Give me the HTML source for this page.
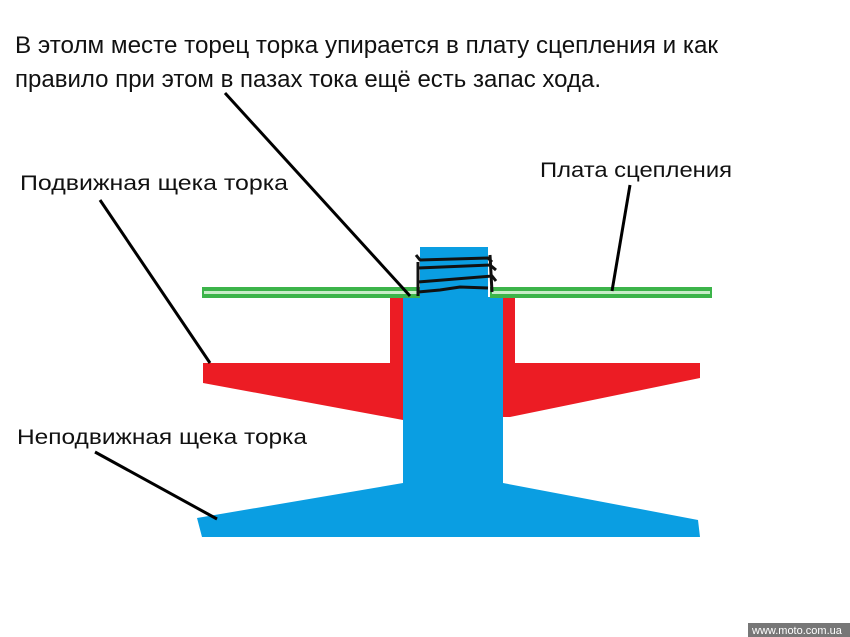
<!DOCTYPE html>
<html><head><meta charset="utf-8"><style>
html,body{margin:0;padding:0;background:#fff;}
svg{display:block;}
text{font-family:"Liberation Sans Narrow","Liberation Sans",sans-serif;fill:#111;}
</style></head><body>
<svg width="850" height="637" viewBox="0 0 850 637" xmlns="http://www.w3.org/2000/svg">
<rect width="850" height="637" fill="#fff"/>
<text x="15" y="53" font-size="24" textLength="703" lengthAdjust="spacingAndGlyphs">В этолм месте торец торка упирается в плату сцепления и как</text>
<text x="15" y="87" font-size="24" textLength="586" lengthAdjust="spacingAndGlyphs">правило при этом в пазах тока ещё есть запас хода.</text>
<text x="20" y="190" font-size="21" textLength="268" lengthAdjust="spacingAndGlyphs">Подвижная щека торка</text>
<text x="540" y="177" font-size="21" textLength="192" lengthAdjust="spacingAndGlyphs">Плата сцепления</text>
<text x="17" y="444" font-size="21" textLength="290" lengthAdjust="spacingAndGlyphs">Неподвижная щека торка</text>
<!-- blue shaft -->
<polygon points="420,247 488,247 488,297 503,297 503,483 698,520 700,537 202,537 197,518 403,483 403,297 420,297" fill="#0a9ee2"/>
<!-- red moving half -->
<polygon points="390,298 403,298 403,420 203,383 203,363 390,363" fill="#ec1c24"/>
<polygon points="503,298 515,298 515,363 700,363 700,378 510,417 503,417" fill="#ec1c24"/>
<!-- green plate -->
<rect x="202" y="287" width="218" height="11" fill="#3cb44a"/>
<rect x="204" y="291" width="214" height="3" fill="#c8ecc8"/>
<rect x="490" y="287" width="222" height="11" fill="#3cb44a"/>
<rect x="492" y="291" width="218" height="3" fill="#c8ecc8"/>
<!-- threads -->
<g stroke="#111" stroke-width="3" fill="none">
<path d="M416,255 L420,260 L488,258 L492,262"/>
<path d="M418,268 L490,265 L496,270"/>
<path d="M418,282 L492,276 L496,281"/>
<path d="M418,292 L440,290 L460,287 L488,288"/>
<path d="M418,262 L418,296 M490,255 L492,292"/>
</g>
<!-- leaders -->
<g stroke="#000" stroke-width="3">
<line x1="225" y1="93" x2="410" y2="296"/>
<line x1="100" y1="200" x2="210" y2="363"/>
<line x1="95" y1="452" x2="217" y2="519"/>
<line x1="630" y1="185" x2="612" y2="291"/>
</g>
<rect x="748" y="623" width="102" height="14" fill="#777"/>
<text x="752" y="634" font-size="11" fill="#fff" style="fill:#fff;font-family:'Liberation Sans',sans-serif">www.moto.com.ua</text>
</svg>
</body></html>
